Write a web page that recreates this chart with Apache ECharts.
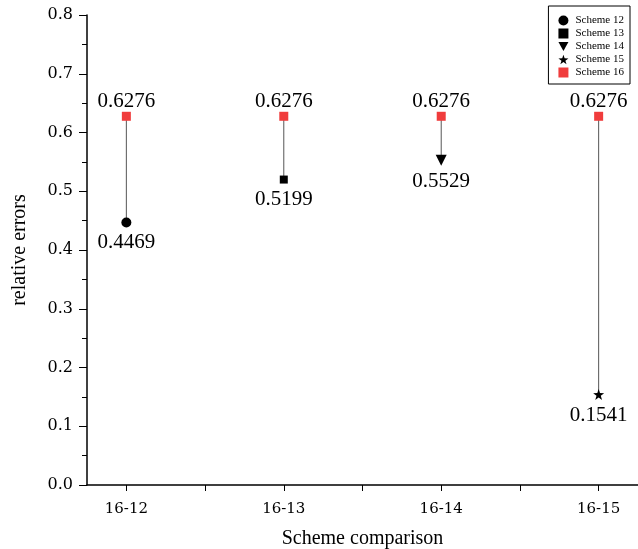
<!DOCTYPE html>
<html><head><meta charset="utf-8">
<script src="https://cdn.jsdelivr.net/npm/echarts@6/dist/echarts.min.js"></script>
<style>html,body{margin:0;padding:0;background:#fff}#c{width:638px;height:549px}</style>
</head><body><div id="c"></div>
<script>
const categories = ['16-12', '16-13', '16-14', '16-15'];
const scheme16 = [0.6276, 0.6276, 0.6276, 0.6276];
const otherValues = [0.4469, 0.5199, 0.5529, 0.1541];
const otherNames = ['Scheme 12', 'Scheme 13', 'Scheme 14', 'Scheme 15'];
const yTicks = [0, 0.1, 0.2, 0.3, 0.4, 0.5, 0.6, 0.7, 0.8];

const FONT = '"Liberation Serif", "DejaVu Serif", serif';
const starPath = 'path://M50,0 L61.8,35.1 L98.9,35.5 L69.1,57.6 L80.2,93 L50,71.5 L19.8,93 L30.9,57.6 L1.1,35.5 L38.2,35.1 Z';
const triPath = 'path://M0,0 L100,0 L50,90 Z';
const symbols = ['circle', 'rect', triPath, starPath];
const symbolSizes = [10, 8, 11, 11];
const red = '#f03c3c';

const series = [];
// connecting lines
categories.forEach((c, i) => {
  series.push({
    type: 'line', silent: true, symbol: 'none', z: 1,
    lineStyle: {color: '#555', width: 1},
    data: [[i + 1, otherValues[i]], [i + 1, scheme16[i]]]
  });
});
otherNames.forEach((n, k) => {
  series.push({
    name: n, type: 'scatter', z: 3,
    symbol: symbols[k], symbolSize: symbolSizes[k],
    itemStyle: {color: '#000', opacity: 1},
    label: {show: true, position: 'bottom', distance: 5, color: '#000',
      fontFamily: FONT, fontSize: 21, formatter: p => p.value[1].toFixed(4)},
    data: [[k + 1, otherValues[k]]]
  });
});
series.push({
  name: 'Scheme 16', type: 'scatter', z: 4,
  symbol: 'rect', symbolSize: 9,
  itemStyle: {color: red, opacity: 1},
  label: {show: true, position: 'top', distance: 0, color: '#000',
    fontFamily: FONT, fontSize: 21, formatter: p => p.value[1].toFixed(4)},
  data: scheme16.map((v, i) => [i + 1, v])
});

const chart = echarts.init(document.getElementById('c'));
chart.setOption({
  animation: false,
  backgroundColor: '#fff',
  grid: {left: 87, right: 0, top: 15, bottom: 64, containLabel: false, outerBoundsMode: 'none'},
  legend: {
    orient: 'vertical', right: 8, top: 6,
    data: [
      {name: 'Scheme 12', icon: 'circle'},
      {name: 'Scheme 13', icon: 'rect'},
      {name: 'Scheme 14', icon: triPath},
      {name: 'Scheme 15', icon: starPath},
      {name: 'Scheme 16', icon: 'rect'}
    ],
    itemWidth: 10, itemHeight: 10, itemGap: 2,
    padding: [9, 6, 6, 10],
    borderColor: '#000', borderWidth: 1, backgroundColor: '#fff',
    itemStyle: {opacity: 1},
    textStyle: {fontFamily: FONT, fontSize: 11, color: '#000', padding: [0, 0, 0, 2]}
  },
  xAxis: {
    type: 'value', min: 0.75, max: 4.25,
    name: 'Scheme comparison', nameLocation: 'middle', nameGap: 44,
    nameTextStyle: {fontFamily: FONT, fontSize: 20, color: '#000'},
    axisLine: {show: true, lineStyle: {color: '#000', width: 1.5}},
    axisTick: {show: true, inside: false, length: 6, lineStyle: {color: '#000', width: 1},
      customValues: [1, 1.5, 2, 2.5, 3, 3.5, 4]},
    axisLabel: {customValues: [1, 2, 3, 4], margin: 17,
      fontFamily: '"DejaVu Serif", serif', fontSize: 15, color: '#000',
      formatter: v => categories[Math.round(v) - 1] || ''},
    splitLine: {show: false}
  },
  yAxis: {
    type: 'value', min: 0, max: 0.8, interval: 0.1,
    name: 'relative errors', nameLocation: 'middle', nameGap: 57,
    nameTextStyle: {fontFamily: FONT, fontSize: 20, color: '#000'},
    axisLine: {show: true, lineStyle: {color: '#000', width: 1.5}},
    axisTick: {show: true, inside: false, length: 8, lineStyle: {color: '#000', width: 1}},
    minorTick: {show: true, splitNumber: 2, length: 5, lineStyle: {color: '#000', width: 1}},
    axisLabel: {margin: 14, fontFamily: '"DejaVu Serif", serif', fontSize: 16, color: '#000',
      formatter: v => {
        const t = yTicks.find(x => Math.abs(x - v) < 1e-9);
        return (t !== undefined ? t : v).toFixed(1);
      }},
    splitLine: {show: false}
  },
  series: series
});
</script></body></html>
